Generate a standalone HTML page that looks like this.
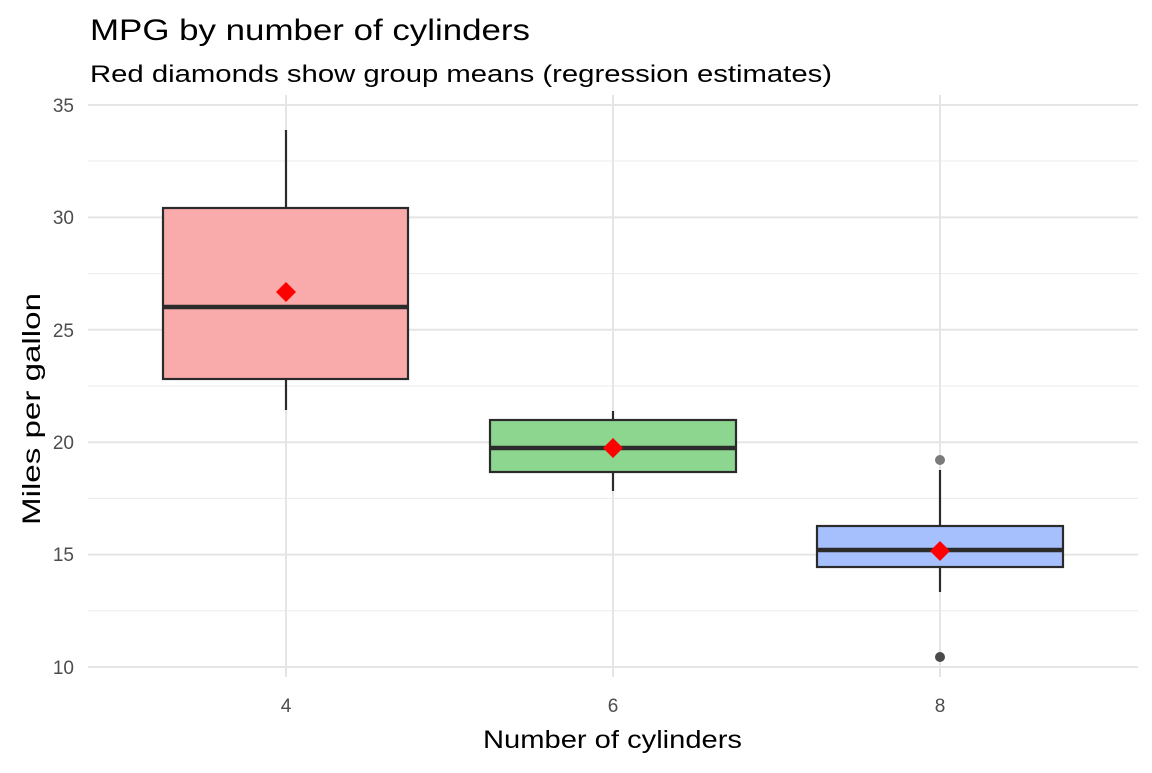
<!DOCTYPE html>
<html><head><meta charset="utf-8"><style>body{margin:0;background:#fff}</style></head><body>
<svg width="1152" height="768" xmlns="http://www.w3.org/2000/svg" font-family="Liberation Sans, sans-serif">
<rect width="1152" height="768" fill="#fff"/>
<g stroke="#ebebeb" stroke-width="1">
<line x1="88" x2="1138" y1="161" y2="161"/><line x1="88" x2="1138" y1="273.6" y2="273.6"/>
<line x1="88" x2="1138" y1="386" y2="386"/><line x1="88" x2="1138" y1="498.4" y2="498.4"/>
<line x1="88" x2="1138" y1="610.8" y2="610.8"/>
</g>
<g stroke="#e5e5e5" stroke-width="2">
<line x1="88" x2="1138" y1="105" y2="105"/><line x1="88" x2="1138" y1="217.4" y2="217.4"/>
<line x1="88" x2="1138" y1="329.8" y2="329.8"/><line x1="88" x2="1138" y1="442.2" y2="442.2"/>
<line x1="88" x2="1138" y1="554.6" y2="554.6"/><line x1="88" x2="1138" y1="667" y2="667"/>
<line x1="286" x2="286" y1="95" y2="677"/><line x1="613" x2="613" y1="95" y2="677"/><line x1="940" x2="940" y1="95" y2="677"/>
</g>
<g stroke="#2b2b2b" stroke-width="2.2">
<line x1="286" x2="286" y1="130" y2="208"/><line x1="286" x2="286" y1="379" y2="410"/>
<rect x="163" y="208" width="245" height="171" fill="#F8ABAA"/>
<line x1="163" x2="408" y1="307" y2="307" stroke-width="4.5"/>
<line x1="613" x2="613" y1="411" y2="420"/><line x1="613" x2="613" y1="472" y2="491"/>
<rect x="490" y="420" width="246" height="52" fill="#8CD690"/>
<line x1="490" x2="736" y1="448" y2="448" stroke-width="4.5"/>
<line x1="940" x2="940" y1="470" y2="526"/><line x1="940" x2="940" y1="567" y2="592"/>
<rect x="817" y="526" width="246" height="41" fill="#A6C0FD"/>
<line x1="817" x2="1063" y1="550" y2="550" stroke-width="4.5"/>
</g>
<circle cx="940" cy="460" r="5" fill="#7a7a7a"/>
<circle cx="940" cy="657" r="5" fill="#4a4a4a"/>
<g fill="#ff0000">
<polygon points="286,282 296,292 286,302 276,292"/>
<polygon points="613,438 623,448 613,458 603,448"/>
<polygon points="940,541 950,551 940,561 930,551"/>
</g>
<g fill="#4d4d4d" font-size="19" text-anchor="end">
<text x="74" y="112">35</text><text x="74" y="224">30</text><text x="74" y="337">25</text>
<text x="74" y="449">20</text><text x="74" y="561">15</text><text x="74" y="674">10</text>
</g>
<g fill="#4d4d4d" font-size="19" text-anchor="middle">
<text x="286" y="712">4</text><text x="613" y="712">6</text><text x="940" y="712">8</text>
</g>
<text x="483" y="748" font-size="25" textLength="259" lengthAdjust="spacingAndGlyphs" fill="#000">Number of cylinders</text>
<text transform="translate(40,525) rotate(-90)" font-size="25" textLength="232" lengthAdjust="spacingAndGlyphs" fill="#000">Miles per gallon</text>
<text x="90" y="40" font-size="30" textLength="440" lengthAdjust="spacingAndGlyphs" fill="#000">MPG by number of cylinders</text>
<text x="90" y="82" font-size="24" textLength="742" lengthAdjust="spacingAndGlyphs" fill="#000">Red diamonds show group means (regression estimates)</text>
</svg>
</body></html>
